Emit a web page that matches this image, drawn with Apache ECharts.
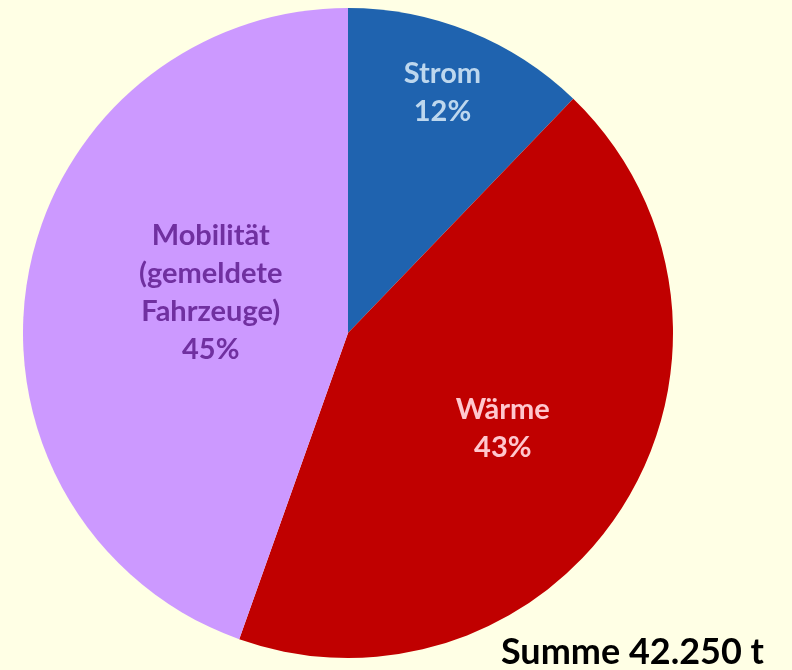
<!DOCTYPE html>
<html><head><meta charset="utf-8">
<script src="https://cdn.jsdelivr.net/npm/echarts@6/dist/echarts.min.js"></script>
<style>html,body{margin:0;padding:0;background:#FFFFE5;}#c{width:792px;height:670px;}</style>
</head><body><div id="c"></div>
<script>
const categories = ['Strom', 'Wärme', 'Mobilität\n(gemeldete\nFahrzeuge)'];
const values = [5150, 18270, 18830]; // Tonnen
const sliceColors = ['#1F63AF', '#C00000', '#CC99FF'];
const labelColors = ['#BDD7EE', '#FFC7CE', '#7030A0'];
const labelRadius = [0.795, 0.56, 0.44];
const labelAngleShift = [-0.5, 0, 6.5];

const total = values.reduce((a, b) => a + b, 0);
const cx = 348, cy = 333, R = 325;
const cum = [];
let acc = 0;
values.forEach(v => { cum.push(acc + v / 2); acc += v; });

const chart = echarts.init(document.getElementById('c'), null, {renderer: 'canvas'});
chart.setOption({
  backgroundColor: '#FFFFE5',
  animation: false,
  series: [{
    type: 'pie',
    center: [cx, cy],
    radius: [0, R],
    startAngle: 90,
    clockwise: true,
    data: categories.map((n, i) => ({
      name: n, value: values[i],
      itemStyle: {color: sliceColors[i]},
      label: {color: labelColors[i]}
    })),
    label: {
      show: true,
      position: 'inside',
      fontFamily: 'Lato',
      fontWeight: 'bold',
      fontSize: 29,
      lineHeight: 38,
      align: 'center',
      formatter: p => p.name + '\n' + Math.round(p.percent) + '%'
    },
    labelLayout: function (p) {
      const i = p.dataIndex;
      const a = (cum[i] / total * 360 + labelAngleShift[i]) * Math.PI / 180;
      const r = labelRadius[i] * R;
      return {x: cx + r * Math.sin(a), y: cy - r * Math.cos(a)};
    },
    labelLine: {show: false},
    emphasis: {disabled: true}
  }],
  graphic: [{
    type: 'text',
    right: 28,
    bottom: 0,
    style: {
      text: 'Summe ' + total.toLocaleString('de-DE') + ' t',
      font: 'bold 36px Lato',
      fill: '#000000'
    }
  }]
});
</script></body></html>
